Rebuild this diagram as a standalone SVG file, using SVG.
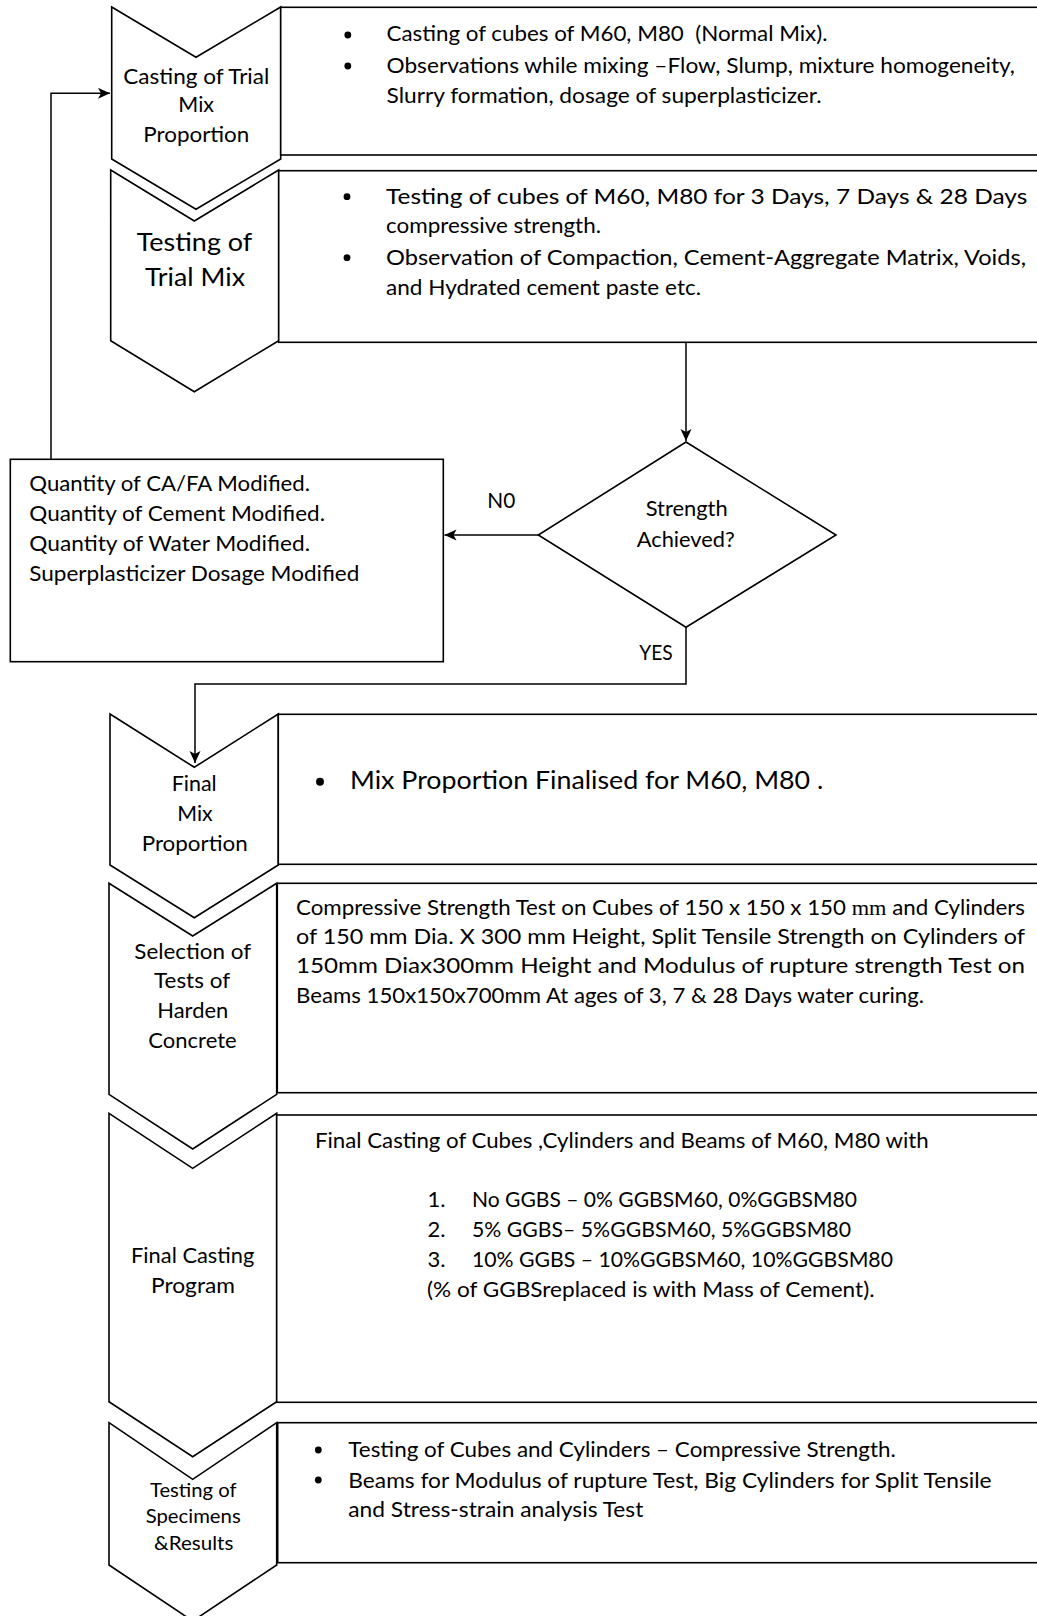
<svg xmlns="http://www.w3.org/2000/svg" width="1037" height="1616" viewBox="0 0 1037 1616">
<style>
.shape{fill:#fff;stroke:#000;stroke-width:1.6;stroke-linejoin:miter}
.conn{fill:none;stroke:#000;stroke-width:1.5}
.t{font-family:Lato,"Liberation Sans",sans-serif;font-size:22px;fill:#000}
.c{text-anchor:middle}
.big{font-size:25.5px}
.mid{font-size:24.5px}
.sm{font-size:19px}
.dot{fill:#000}
</style>
<defs>
<marker id="arr" markerUnits="userSpaceOnUse" markerWidth="13" markerHeight="12" refX="12" refY="5.5" orient="auto">
<path d="M0,0 L12,5.5 L0,11 L3,5.5 z" fill="#000"/>
</marker>
</defs>
<rect width="1037" height="1616" fill="#fff"/>

<g id="step1">
<polygon class="shape" points="111.7,7 196,57.3 280.7,7 280.7,159 196,209.3 111.7,159"/>
<text class="t c" x="196.3" y="83.5" textLength="146" lengthAdjust="spacingAndGlyphs">Casting of Trial</text>
<text class="t c" x="196.2" y="112.3" textLength="35.7" lengthAdjust="spacingAndGlyphs">Mix</text>
<text class="t c" x="196.3" y="141.7" textLength="106" lengthAdjust="spacingAndGlyphs">Proportion</text>
</g>
<g id="box1">
<rect class="shape" x="280.7" y="7.3" width="770" height="147.7"/>
<circle class="dot" cx="347.8" cy="35" r="3.4"/>
<circle class="dot" cx="347.8" cy="66" r="3.4"/>
<text class="t" x="386.5" y="41" textLength="441" lengthAdjust="spacingAndGlyphs" xml:space="preserve">Casting of cubes of M60, M80  (Normal Mix).</text>
<text class="t" x="386.5" y="73" textLength="628.5" lengthAdjust="spacingAndGlyphs">Observations while mixing –Flow, Slump, mixture homogeneity,</text>
<text class="t" x="386.5" y="102.5" textLength="435" lengthAdjust="spacingAndGlyphs">Slurry formation, dosage of superplasticizer.</text>
</g>

<g id="step2">
<polygon class="shape" points="110.7,170 194.3,221 278.7,170 278.7,340.7 194.3,391.7 110.7,340.7"/>
<text class="t c big" x="194.5" y="250.5" textLength="115.6" lengthAdjust="spacingAndGlyphs">Testing of</text>
<text class="t c big" x="195" y="286" textLength="100" lengthAdjust="spacingAndGlyphs">Trial Mix</text>
</g>
<g id="box2">
<rect class="shape" x="278.7" y="170.7" width="770" height="171.6"/>
<circle class="dot" cx="347" cy="196.7" r="3.4"/>
<circle class="dot" cx="347" cy="257.7" r="3.4"/>
<text class="t" x="386" y="203.7" textLength="641.3" lengthAdjust="spacingAndGlyphs">Testing of cubes of M60, M80 for 3 Days, 7 Days &amp; 28 Days</text>
<text class="t" x="386" y="232.5" textLength="215" lengthAdjust="spacingAndGlyphs">compressive strength.</text>
<text class="t" x="386" y="264.5" textLength="640" lengthAdjust="spacingAndGlyphs">Observation of Compaction, Cement-Aggregate Matrix, Voids,</text>
<text class="t" x="386" y="294.5" textLength="315" lengthAdjust="spacingAndGlyphs">and Hydrated cement paste etc.</text>
</g>

<g id="decision">
<polygon class="shape" points="686,442 836,535 686,627.3 538.3,535"/>
<text class="t c" x="686.7" y="516" textLength="82" lengthAdjust="spacingAndGlyphs">Strength</text>
<text class="t c" x="685.8" y="546.7" textLength="98" lengthAdjust="spacingAndGlyphs">Achieved?</text>
</g>

<g id="modify">
<rect class="shape" x="10.3" y="459.3" width="433" height="202.4"/>
<text class="t" x="29.3" y="491" textLength="280.7" lengthAdjust="spacingAndGlyphs">Quantity of CA/FA Modified.</text>
<text class="t" x="29.3" y="520.7" textLength="295.7" lengthAdjust="spacingAndGlyphs">Quantity of Cement Modified.</text>
<text class="t" x="29.3" y="550.7" textLength="280.7" lengthAdjust="spacingAndGlyphs">Quantity of Water Modified.</text>
<text class="t" x="29.3" y="580.7" textLength="330" lengthAdjust="spacingAndGlyphs">Superplasticizer Dosage Modified</text>
</g>

<g id="connectors">
<path class="conn" d="M686,342.3 V441" marker-end="url(#arr)"/>
<path class="conn" d="M538.3,535 H444.5" marker-end="url(#arr)"/>
<path class="conn" d="M51,459.3 V93.3 H110" marker-end="url(#arr)"/>
<path class="conn" d="M686,627.3 V684 H195 V763" marker-end="url(#arr)"/>
<text class="t" x="487.3" y="508.3" textLength="28" lengthAdjust="spacingAndGlyphs">N0</text>
<text class="t" x="639.3" y="660" textLength="33.4" lengthAdjust="spacingAndGlyphs">YES</text>
</g>

<g id="step3">
<polygon class="shape" points="110,714 194.3,767.3 278.3,714 278.3,865 194.3,917.7 110,865"/>
<text class="t c" x="194.2" y="790.7" textLength="45" lengthAdjust="spacingAndGlyphs">Final</text>
<text class="t c" x="195" y="820.7" textLength="35.4" lengthAdjust="spacingAndGlyphs">Mix</text>
<text class="t c" x="194.7" y="850.7" textLength="106" lengthAdjust="spacingAndGlyphs">Proportion</text>
</g>
<g id="box3">
<rect class="shape" x="278.3" y="714.3" width="770" height="150"/>
<circle class="dot" cx="320" cy="781.7" r="4"/>
<text class="t mid" x="350" y="789.3" textLength="473.3" lengthAdjust="spacingAndGlyphs">Mix Proportion Finalised for M60, M80 .</text>
</g>

<g id="step4">
<polygon class="shape" points="109,883.3 192.7,936 276.7,883.3 276.7,1094.3 192.7,1149 109,1094.3"/>
<text class="t c" x="192.7" y="959" textLength="116.7" lengthAdjust="spacingAndGlyphs">Selection of</text>
<text class="t c" x="192" y="988.3" textLength="76" lengthAdjust="spacingAndGlyphs">Tests of</text>
<text class="t c" x="192.8" y="1018.3" textLength="71" lengthAdjust="spacingAndGlyphs">Harden</text>
<text class="t c" x="192.5" y="1048.3" textLength="88.3" lengthAdjust="spacingAndGlyphs">Concrete</text>
</g>
<g id="box4">
<rect class="shape" x="277.3" y="883.3" width="770" height="209.4"/>
<text class="t" x="296" y="915" textLength="729" lengthAdjust="spacingAndGlyphs">Compressive Strength Test on Cubes of 150 x 150 x 150 <tspan font-family="Liberation Serif">mm</tspan> and Cylinders</text>
<text class="t" x="296" y="944" textLength="729" lengthAdjust="spacingAndGlyphs">of 150 mm Dia. X 300 mm Height, Split Tensile Strength on Cylinders of</text>
<text class="t" x="296" y="973.3" textLength="729" lengthAdjust="spacingAndGlyphs">150mm Diax300mm Height and Modulus of rupture strength Test on</text>
<text class="t" x="296" y="1003.3" textLength="628" lengthAdjust="spacingAndGlyphs">Beams 150x150x700mm At ages of 3, 7 &amp; 28 Days water curing.</text>
</g>

<g id="step5">
<polygon class="shape" points="109,1113.3 192.7,1168.3 276.7,1113.3 276.7,1401.7 192.7,1456.7 109,1401.7"/>
<text class="t c" x="192.7" y="1262.7" textLength="123.3" lengthAdjust="spacingAndGlyphs">Final Casting</text>
<text class="t c" x="193" y="1292.7" textLength="84" lengthAdjust="spacingAndGlyphs">Program</text>
</g>
<g id="box5">
<rect class="shape" x="276.7" y="1115" width="770" height="287.3"/>
<text class="t" x="315" y="1148" textLength="613.6" lengthAdjust="spacingAndGlyphs">Final Casting of Cubes ,Cylinders and Beams of M60, M80 with</text>
<text class="t" x="427.5" y="1207">1.</text>
<text class="t" x="427.5" y="1237">2.</text>
<text class="t" x="427.5" y="1267">3.</text>
<text class="t" x="472" y="1207" textLength="385" lengthAdjust="spacingAndGlyphs">No GGBS – 0% GGBSM60, 0%GGBSM80</text>
<text class="t" x="472" y="1237" textLength="379" lengthAdjust="spacingAndGlyphs">5% GGBS– 5%GGBSM60, 5%GGBSM80</text>
<text class="t" x="472" y="1267" textLength="421" lengthAdjust="spacingAndGlyphs">10% GGBS – 10%GGBSM60, 10%GGBSM80</text>
<text class="t" x="427" y="1296.5" textLength="447.5" lengthAdjust="spacingAndGlyphs">(% of GGBSreplaced is with Mass of Cement).</text>
</g>

<g id="step6">
<polygon class="shape" points="109,1422.7 192.7,1479.3 276.7,1422.7 276.7,1565 192.7,1621 109,1565"/>
<text class="t c sm" x="193.3" y="1496.7" textLength="86.7" lengthAdjust="spacingAndGlyphs">Testing of</text>
<text class="t c sm" x="193.2" y="1523.3" textLength="95" lengthAdjust="spacingAndGlyphs">Specimens</text>
<text class="t c sm" x="193.7" y="1550" textLength="79.3" lengthAdjust="spacingAndGlyphs">&amp;Results</text>
</g>
<g id="box6">
<rect class="shape" x="277.7" y="1422.7" width="770" height="140"/>
<circle class="dot" cx="318.3" cy="1450" r="3.4"/>
<circle class="dot" cx="318.3" cy="1480" r="3.4"/>
<text class="t" x="348.3" y="1456.7" textLength="547.5" lengthAdjust="spacingAndGlyphs">Testing of Cubes and Cylinders – Compressive Strength.</text>
<text class="t" x="348.3" y="1487.7" textLength="643.3" lengthAdjust="spacingAndGlyphs">Beams for Modulus of rupture Test, Big Cylinders for Split Tensile</text>
<text class="t" x="348.3" y="1516.7" textLength="295" lengthAdjust="spacingAndGlyphs">and Stress-strain analysis Test</text>
</g>
</svg>
